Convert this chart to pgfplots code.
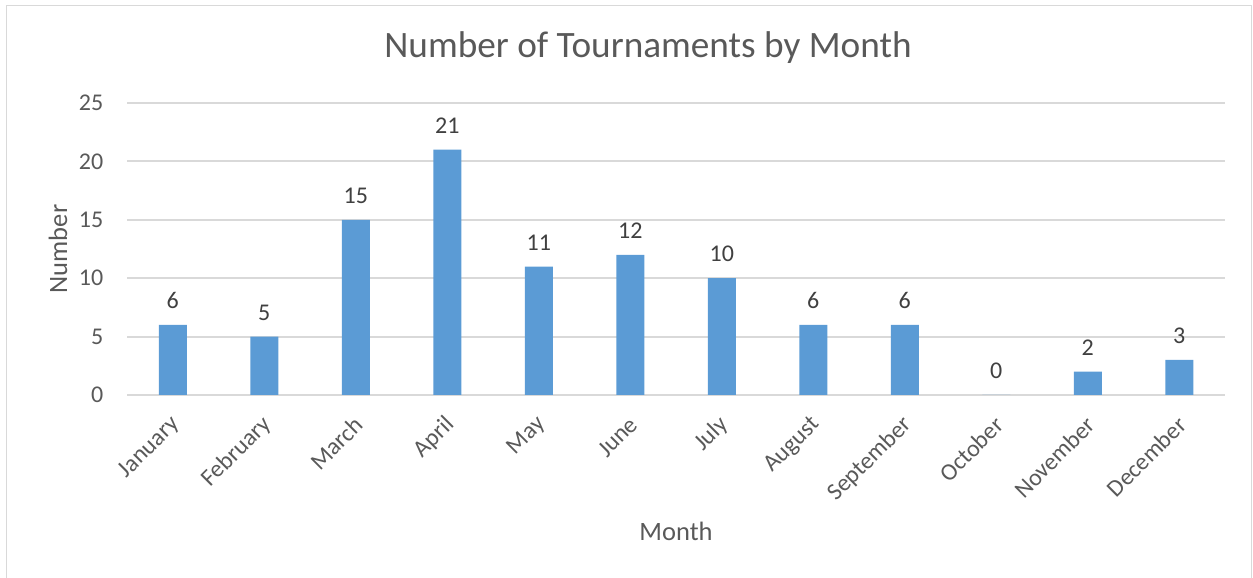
\documentclass[border=0pt]{standalone}
\usepackage{pgfplots}
\pgfplotsset{compat=1.18}
\usepackage{fontspec}
\setmainfont{Carlito}
\definecolor{barblue}{HTML}{5B9BD5}
\definecolor{gridgray}{HTML}{D9D9D9}
\definecolor{txtgray}{HTML}{595959}
\definecolor{lblgray}{HTML}{404040}
\begin{document}
\begin{tikzpicture}[x=0.4pt,y=0.4pt]
\useasboundingbox (0,0) rectangle (1253,578);
\draw[gridgray, line width=0.75pt] (6.5,-5) -- (6.5,572.5) -- (1251.5,572.5) -- (1251.5,-5);
\begin{axis}[
  at={(50.8pt,73.2pt)}, anchor=south west,
  scale only axis, width=439.2pt, height=116.8pt,
  xmin=-0.5, xmax=11.5, ymin=0, ymax=25,
  ybar, bar width=11.2pt,
  axis line style={draw=none},
  ymajorgrids, grid style={gridgray, line width=0.75pt},
  major tick length=0pt,
  ytick={0,5,10,15,20,25},
  xtick=data,
  xticklabels={January,February,March,April,May,June,July,August,September,October,November,December},
  tick label style={font=\fontsize{9.6}{11}\selectfont, text=txtgray},
  xticklabel style={rotate=45, anchor=east, yshift=-8.3pt, xshift=-3pt},
  yticklabel style={xshift=-6pt},
  /pgf/number format/assume math mode=true,
  nodes near coords,
  every node near coord/.append style={font=\fontsize{9.6}{11}\selectfont, text=lblgray, yshift=3pt},
  clip=false,
]
\addplot[fill=barblue, draw=none] coordinates {
(0,6) (1,5) (2,15) (3,21) (4,11) (5,12) (6,10) (7,6) (8,6) (9,0) (10,2) (11,3)};
\end{axis}
\node[text=txtgray, font=\fontsize{14.9}{17}\selectfont] at (648,530) {Number of Tournaments by Month};
\node[text=txtgray, font=\fontsize{10.6}{12}\selectfont] at (676,47) {Month};
\node[text=txtgray, font=\fontsize{10.6}{12}\selectfont, rotate=90] at (58,329) {Number};
\end{tikzpicture}
\end{document}
